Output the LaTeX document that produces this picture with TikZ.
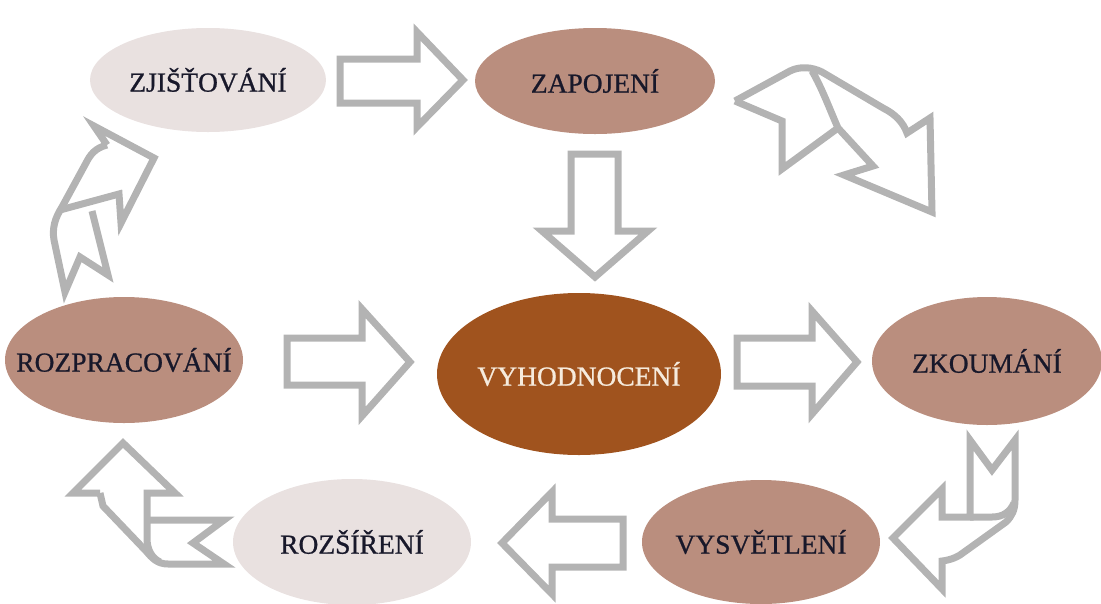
\documentclass[tikz,border=0pt]{standalone}
\usepackage{fontspec}
\setmainfont{Liberation Serif}
\newfontfamily\stagefont{Liberation Serif}[FakeBold=0.8]
\usetikzlibrary{shapes.geometric}
\definecolor{pale}{HTML}{E9E1E0}
\definecolor{rose}{HTML}{BA8E7E}
\definecolor{rust}{HTML}{A0531E}
\definecolor{ink}{HTML}{18182A}
\definecolor{cream}{HTML}{F6EBDD}
\definecolor{arrowgray}{HTML}{B3B3B3}
% the label is given no width so that the ellipse keeps the size it is set to
\newcommand{\stagetext}[1]{\makebox[0pt]{#1}}
\begin{document}
\begin{tikzpicture}[x=1pt,y=-1pt,
  stage/.style={ellipse, inner sep=0pt, text=ink,
    font=\stagefont\fontsize{27.5}{30}\selectfont},
  blk/.style={draw=arrowgray, line width=7pt, line join=miter, miter limit=6}]
\useasboundingbox (0,0) rectangle (1101,603);

% cycle stages
\node[stage, fill=pale, minimum width=236pt, minimum height=104pt] (zjis) at (208,80) {\stagetext{ZJIŠŤOVÁNÍ}};
\node[stage, fill=rose, minimum width=240pt, minimum height=106pt] (zapo) at (595,81) {\stagetext{ZAPOJENÍ}};
\node[stage, fill=rust, text=cream, minimum width=284pt, minimum height=162pt] (vyho) at (579,374) {\stagetext{VYHODNOCENÍ}};
\node[stage, fill=rose, minimum width=238pt, minimum height=126pt] (rozp) at (124,360) {\stagetext{ROZPRACOVÁNÍ}};
\node[stage, fill=rose, minimum width=230pt, minimum height=128pt] (zkou) at (987,361) {\stagetext{ZKOUMÁNÍ}};
\node[stage, fill=pale, minimum width=238pt, minimum height=126pt] (rozs) at (352,542) {\stagetext{ROZŠÍŘENÍ}};
\node[stage, fill=rose, minimum width=238pt, minimum height=124pt] (vysv) at (761,542) {\stagetext{VYSVĚTLENÍ}};

% straight block arrows
\draw[blk] (340,59) -- (417,59) -- (417,32) -- (463,80) -- (417,127) -- (417,103) -- (340,103) -- cycle;
\draw[blk] (571,154) -- (618,154) -- (618,231) -- (648,231) -- (595,277) -- (542,231) -- (571,231) -- cycle;
\draw[blk] (287,338) -- (362,338) -- (362,309) -- (410,362) -- (362,416) -- (362,385) -- (287,385) -- cycle;
\draw[blk] (737,338) -- (812,338) -- (812,311) -- (857,362) -- (812,414) -- (812,386) -- (737,386) -- cycle;
\draw[blk] (623,519) -- (552,519) -- (552,492) -- (502,543) -- (552,594) -- (552,567) -- (623,567) -- cycle;

% curved arrow: ZAPOJENI -> ZKOUMANI
\draw[blk] (735,101) -- (790,71) .. controls (800,66) and (812,67) .. (822,72)
  -- (883,108) .. controls (895,114) and (903,122) .. (907,133)
  -- (930,118) -- (932,212) -- (844,175) -- (873,166) -- (838,128)
  .. controls (830,110) and (822,88) .. (812,71);
\draw[blk] (735,101) -- (782,121) -- (782,169) -- (838,128);

% curved arrow: ROZPRACOVANI -> ZJISTOVANI
\draw[blk] (107,145) -- (94,126) -- (154,158) -- (121,223) -- (119,194) -- (60,210);
\draw[blk] (107,145) .. controls (95,148) and (90,155) .. (86,163) -- (62,207)
  .. controls (55,218) and (52,228) .. (54,240) -- (65,292) -- (80,257)
  -- (108,275) -- (92,211);

% curved arrow: ROZSIRENI -> ROZPRACOVANI
\draw[blk] (100,493) -- (73,493) -- (123,443) -- (175,493) -- (147,493) -- (147,538)
  .. controls (147,550) and (152,558) .. (160,562);
\draw[blk] (100,493) -- (103,506) -- (146,551) .. controls (152,558) and (157,564) .. (168,564)
  -- (224,564) -- (193,543) -- (224,520) -- (147,520);

% curved arrow: ZKOUMANI -> VYSVETLENI
\draw[blk] (970,440) -- (970,517) -- (942,517) -- (942,489) -- (893,538) -- (942,589)
  -- (942,561) .. controls (950,560) and (955,558) .. (960,555) -- (1006,522)
  .. controls (1012,516) and (1015,510) .. (1015,500) -- (1015,440) -- (992,470) -- cycle;
\draw[blk] (970,517) -- (992,517) .. controls (1003,517) and (1010,512) .. (1014,503);
\end{tikzpicture}
\end{document}
